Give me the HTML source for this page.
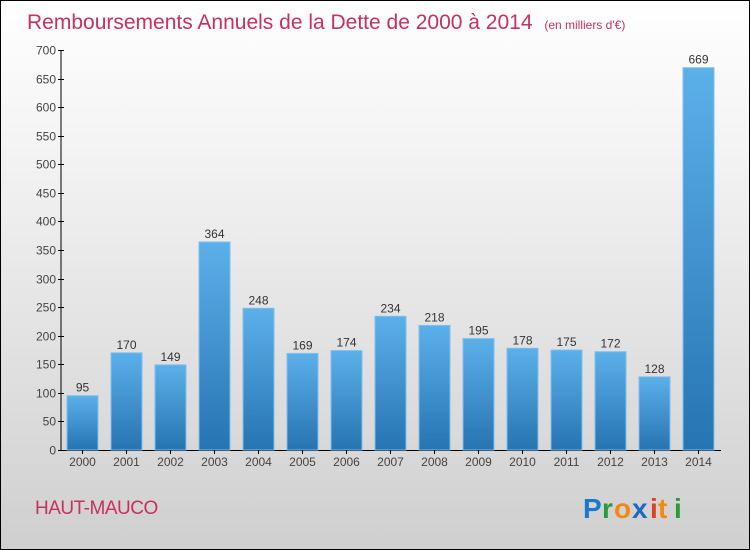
<!DOCTYPE html>
<html><head><meta charset="utf-8"><style>
body{margin:0}
#c{width:748px;height:548px;border:1px solid #000;background:linear-gradient(#ffffff,#f2f2f2 30%,#cfcfcf);position:relative;overflow:hidden;font-family:"Liberation Sans",sans-serif}
</style></head><body>
<div id="c">
<svg width="748" height="548" style="position:absolute;left:0;top:0">
<defs>
<linearGradient id="bg" x1="0" y1="0" x2="0" y2="1"><stop offset="0" stop-color="#5cb0ea"/><stop offset="1" stop-color="#2674b2"/></linearGradient>
</defs>
<text x="26" y="28" font-size="21" fill="#c8305e">Remboursements Annuels de la Dette de 2000 à 2014 <tspan font-size="12" dx="6">(en milliers d'€)</tspan></text>
<g id="plot"></g>
<text x="34" y="513" font-size="19" fill="#c8305e" letter-spacing="-0.5">HAUT-MAUCO</text>
<g font-size="28" font-weight="bold" font-family="Liberation Sans,sans-serif">
<text x="582" y="517" fill="#1a78d0">P</text><text x="601" y="517" fill="#2a9a3a">r</text><text x="613" y="517" fill="#f08a10">o</text><text x="631" y="517" fill="#1a6ac8">x</text><text x="649" y="517" fill="#e04020">i</text><text x="657" y="517" fill="#f08a10">t</text><text x="673" y="517" fill="#2a9a3a">i</text>
</g>
</svg>
</div>
<script>
const years=["2000","2001","2002","2003","2004","2005","2006","2007","2008","2009","2010","2011","2012","2013","2014"];
const values=[95,170,149,364,248,169,174,234,218,195,178,175,172,128,669];
const ticks=[0,50,100,150,200,250,300,350,400,450,500,550,600,650,700];
const NS="http://www.w3.org/2000/svg";
const g=document.getElementById('plot');
const y0=449,yTop=49,vmax=700;
function ys(v){return y0-(v/vmax)*(y0-yTop);}
function xs(i){return 66+i*44;}
function mk(t,a){const e=document.createElementNS(NS,t);for(const k in a)e.setAttribute(k,a[k]);g.appendChild(e);return e;}
let ax=mk('line',{x1:60,y1:yTop,x2:60,y2:y0,stroke:'#000'});


let xa=mk('line',{x1:60,y1:y0+0.5,x2:720,y2:y0+0.5,stroke:'#000'});


ticks.forEach(t=>{
 const y=Math.round(ys(t))+0.5;
 mk('line',{x1:57,y1:y,x2:63,y2:y,stroke:'#000'});
 const tx=mk('text',{x:55,y:y+4,'font-size':12,fill:'#444','text-anchor':'end'});
 tx.textContent=t;
 
 
});
values.forEach((v,i)=>{
 const x=xs(i),y=ys(v);
 const r=mk('rect',{x:x,y:y,width:31,height:y0-y,fill:'url(#bg)',stroke:'#7cc0f0','stroke-width':1});
 
 
 const l=mk('text',{x:x+15.5,y:y-4,'font-size':12,fill:'#333','text-anchor':'middle'});
 l.textContent=v;
 
 
 mk('line',{x1:x+15.5,y1:y0,x2:x+15.5,y2:y0+4,stroke:'#000'});
 const xl=mk('text',{x:x+15.5,y:y0+16,'font-size':12,fill:'#444','text-anchor':'middle'});
 xl.textContent=years[i];
 
 
});
</script>
</body></html>
